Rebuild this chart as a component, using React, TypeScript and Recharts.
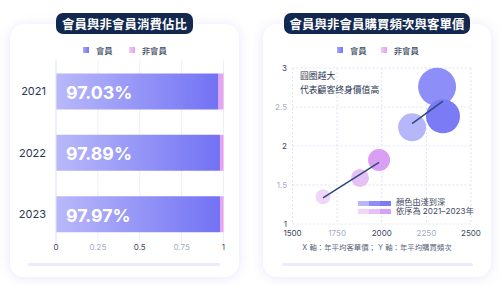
import {
  BarChart, Bar, XAxis, YAxis, CartesianGrid, LabelList,
  ScatterChart, Scatter, ZAxis, Cell,
} from 'recharts'

const FONT = "Inter, 'Noto Sans CJK TC', 'Noto Sans', sans-serif"

// left chart: share of spending
const years = ['2021', '2022', '2023']
const memberShare = [0.9703, 0.9789, 0.9797]
const nonMemberShare = [0.0297, 0.0211, 0.0203]
const shareTicks = [0, 0.25, 0.5, 0.75, 1]

// right chart: avg ticket (x), purchase frequency (y), lifetime value (bubble)
const memberPrice = [2170, 2310, 2343]
const memberFreq = [2.24, 2.76, 2.38]
const memberValue = [196, 361, 289]
const nonMemberPrice = [1671, 1878, 1985]
const nonMemberFreq = [1.35, 1.59, 1.82]
const nonMemberValue = [56, 81, 121]
const priceTicks = [1500, 1750, 2000, 2250, 2500]
const freqTicks = [1, 1.5, 2, 2.5, 3]

const MEMBER_COLORS = ['#b6b6fa', '#8e8ef8', '#7b7bf6']
const NON_MEMBER_COLORS = ['#f0d6f8', '#e5c1f6', '#d99ff4']

const shareRows = years.map((year, i) => ({
  year, member: memberShare[i], nonMember: nonMemberShare[i],
}))
const memberPoints = years.map((year, i) => ({
  year, price: memberPrice[i], freq: memberFreq[i], value: memberValue[i],
}))
const nonMemberPoints = years.map((year, i) => ({
  year, price: nonMemberPrice[i], freq: nonMemberFreq[i], value: nonMemberValue[i],
}))

const tickColor = (i: number) => (i % 2 === 0 ? '#3b4660' : '#a6adbf')

function AltTick(props: any) {
  const { x, y, payload, index, dx = 0, dy = 0, anchor = 'middle' } = props
  return (
    <text
      x={x + dx} y={y + dy} textAnchor={anchor} dominantBaseline="central"
      fontSize={8} fontFamily={FONT} fill={tickColor(index)}
    >
      {payload.value}
    </text>
  )
}

function YearTick(props: any) {
  const { x, y, payload } = props
  return (
    <text x={x} y={y} textAnchor="end" dominantBaseline="central"
      fontSize={11} fontFamily={FONT} fill="#2b3652">
      {payload.value}
    </text>
  )
}

function ShareLabel(props: any) {
  const { x, y, height, value } = props
  return (
    <text x={x + 10} y={y + height / 2 + 1} dominantBaseline="central"
      fontSize={17.8} fontWeight={700} fontFamily={FONT} fill="#ffffff">
      {(value * 100).toFixed(2)}%
    </text>
  )
}

function Legend({ left, gap }: { left: number; gap: number }) {
  const item = (label: string, bg: string) => (
    <div style={{ display: 'flex', alignItems: 'center' }}>
      <span style={{ width: 6, height: 6, background: bg, marginRight: 7 }} />
      <span style={{ fontSize: 8.4, color: '#3d4862', fontWeight: 500 }}>{label}</span>
    </div>
  )
  return (
    <div style={{ position: 'absolute', left, top: 44, height: 12, display: 'flex', gap }}>
      {item('會員', 'linear-gradient(90deg,#a9a9f8,#7474f2)')}
      {item('非會員', 'linear-gradient(90deg,#f2cbf8,#e0a2f0)')}
    </div>
  )
}

function Card({ left, width }: { left: number; width: number }) {
  return (
    <div style={{
      position: 'absolute', left, top: 24, width, height: 253, background: '#fff',
      borderRadius: 14, boxShadow: '0 1px 12px rgba(118,108,238,0.17)',
    }} />
  )
}

function Pill({ left, width, text }: { left: number; width: number; text: string }) {
  return (
    <div style={{
      position: 'absolute', left, top: 13, width, height: 21, background: '#13284f',
      borderRadius: 7, color: '#fff', fontSize: 12.4, fontWeight: 700,
      display: 'flex', alignItems: 'center', justifyContent: 'center', letterSpacing: 0.1,
    }}>
      {text}
    </div>
  )
}

function Bottom({ left, width }: { left: number; width: number }) {
  return (
    <div style={{
      position: 'absolute', left, top: 263, width, height: 3,
      background: '#eeeafd', borderRadius: 2,
    }} />
  )
}

export default function App() {
  return (
    <div style={{
      position: 'absolute', left: 0, top: 0, width: 500, height: 285,
      background: '#ffffff', fontFamily: FONT, overflow: 'hidden',
    }}>
      <Card left={10} width={229} />
      <Card left={263} width={228} />

      <div style={{ position: 'absolute', left: 0, top: 0 }}>
        <BarChart
          width={250} height={285} data={shareRows} layout="vertical"
          margin={{ top: 60.5, right: 26.5, bottom: 20.5, left: 0 }}
        >
          <defs>
            <linearGradient id="memberGrad" x1="0" y1="0" x2="1" y2="0">
              <stop offset="0%" stopColor="#b9b9fa" />
              <stop offset="100%" stopColor="#7272f4" />
            </linearGradient>
          </defs>
          <CartesianGrid horizontal={false} stroke="#eceef9" />
          <XAxis
            type="number" domain={[0, 1]} ticks={shareTicks} height={20}
            axisLine={false} tickLine={false} tickSize={0} tickMargin={0}
            tick={(p: any) => <AltTick {...p} dy={2} />}
          />
          <YAxis
            type="category" dataKey="year" width={56}
            axisLine={{ stroke: '#e6e8f6' }} tickLine={false} tickSize={0} tickMargin={10}
            tick={(p: any) => <YearTick {...p} />}
          />
          <Bar dataKey="member" stackId="s" fill="url(#memberGrad)" barSize={36} isAnimationActive={false}>
            <LabelList dataKey="member" content={(p: any) => <ShareLabel {...p} />} />
          </Bar>
          <Bar dataKey="nonMember" stackId="s" fill="#e7a3f2" barSize={36} isAnimationActive={false} />
        </BarChart>
      </div>

      <div style={{ position: 'absolute', left: 250, top: 0 }}>
        <ScatterChart width={250} height={285} margin={{ top: 68, right: 29, bottom: 45, left: 0 }}>
          <CartesianGrid stroke="#dfe2f5" strokeDasharray="2 2" />
          <XAxis
            type="number" dataKey="price" domain={[1500, 2500]} ticks={priceTicks} height={16}
            axisLine={false} tickLine={false} tickSize={0} tickMargin={0}
            tick={(p: any) => <AltTick {...p} dy={9} />}
          />
          <YAxis
            type="number" dataKey="freq" domain={[1, 3]} ticks={freqTicks} width={42.5}
            axisLine={false} tickLine={false} tickSize={0} tickMargin={5.5}
            tick={(p: any) => <AltTick {...p} anchor="end" />}
          />
          <ZAxis type="number" dataKey="value" domain={[0, 400]} range={[0, 400 * Math.PI]} />
          <Scatter data={nonMemberPoints} isAnimationActive={false}>
            {nonMemberPoints.map((d, i) => <Cell key={d.year} fill={NON_MEMBER_COLORS[i]} />)}
          </Scatter>
          <Scatter data={memberPoints} isAnimationActive={false}>
            {memberPoints.map((d, i) => <Cell key={d.year} fill={MEMBER_COLORS[i]} />)}
          </Scatter>
          <Scatter
            data={nonMemberPoints} isAnimationActive={false} lineType="fitting"
            line={{ stroke: '#2d4b7c', strokeWidth: 1.6 }} shape={() => <g />}
          />
          <Scatter
            data={memberPoints} isAnimationActive={false} lineType="fitting"
            line={{ stroke: '#2d4b7c', strokeWidth: 1.6 }} shape={() => <g />}
          />
        </ScatterChart>
      </div>

      <Legend left={83} gap={16} />
      <Legend left={337} gap={14} />

      <div style={{
        position: 'absolute', left: 300, top: 69, fontSize: 8.8, lineHeight: '14px', color: '#2b3652',
      }}>
        圓圈越大<br />代表顧客终身價值高
      </div>

      <div style={{ position: 'absolute', left: 358, top: 201 }}>
        {[MEMBER_COLORS, NON_MEMBER_COLORS].map((row, r) => (
          <div key={r} style={{ display: 'flex', height: 5, marginBottom: 3 }}>
            {row.map((c) => <span key={c} style={{ width: 11, height: 5, background: c }} />)}
          </div>
        ))}
      </div>
      <div style={{
        position: 'absolute', left: 396, top: 198, fontSize: 8.2, lineHeight: '9px', color: '#3d4862',
      }}>
        顏色由淺到深<br />依序為 2021–2023年
      </div>

      <div style={{
        position: 'absolute', left: 263, width: 228, top: 241, textAlign: 'center',
        fontSize: 7.4, color: '#5d667a',
      }}>
        X 軸：年平均客單價； Y 軸：年平均購買頻次
      </div>

      <Bottom left={28} width={192} />
      <Bottom left={282} width={191} />

      <Pill left={56} width={137} text="會員與非會員消費佔比" />
      <Pill left={284} width={186} text="會員與非會員購買頻次與客單價" />
    </div>
  )
}
